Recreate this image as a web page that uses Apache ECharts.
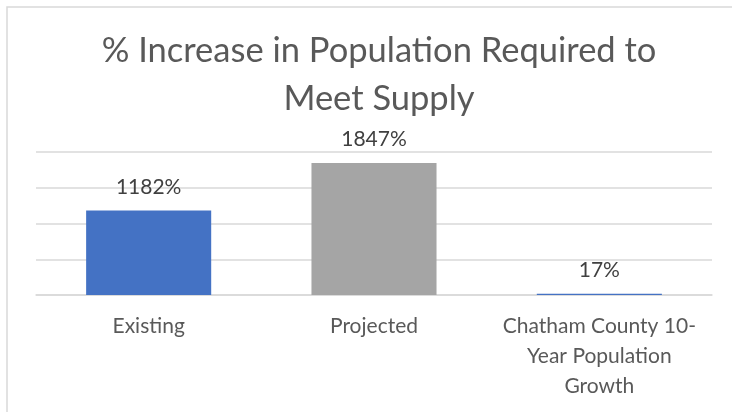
<html>
<head>
    <meta charset="utf-8">
    <title>% Increase in Population Required to Meet Supply</title>
    <style>
        html, body, #main {
            padding: 0;
            margin: 0;
            width: 732px;
            height: 412px;
            background: #fff;
        }
    </style>
    <script src="https://cdn.jsdelivr.net/npm/echarts@6/dist/echarts.min.js"></script>
</head>
<body>
    <div id="main"></div>
    <script>
        // data
        var categories = ['Existing', 'Projected', 'Chatham County 10-\nYear Population\nGrowth'];
        var increasePct = [1182, 1847, 17];
        var barColors = ['#4472C4', '#A5A5A5', '#4472C4'];
        var yTicks = [0, 500, 1000, 1500, 2000];

        var font = 'Lato, "Open Sans", sans-serif';

        var chart = echarts.init(document.getElementById('main'));
        chart.setOption({
            animation: false,
            graphic: [{
                type: 'rect',
                shape: { x: 7, y: 7, width: 740, height: 420 },
                style: { fill: 'none', stroke: '#D9D9D9', lineWidth: 1.5 },
                silent: true
            }],
            title: {
                text: '% Increase in Population Required to\nMeet Supply',
                left: 374,
                top: 22,
                textAlign: 'center',
                textStyle: {
                    fontFamily: font,
                    fontSize: 34.5,
                    fontWeight: 'normal',
                    color: '#595959',
                    lineHeight: 48
                }
            },
            grid: {
                left: 36,
                right: 20,
                top: 152,
                bottom: 117
            },
            xAxis: {
                type: 'category',
                data: categories,
                axisLine: { lineStyle: { color: '#D9D9D9', width: 1.5 } },
                axisTick: { show: false },
                axisLabel: {
                    margin: 16,
                    interval: 0,
                    fontFamily: font,
                    fontSize: 21,
                    lineHeight: 30,
                    color: '#595959'
                }
            },
            yAxis: {
                type: 'value',
                min: yTicks[0],
                max: yTicks[yTicks.length - 1],
                interval: yTicks[1] - yTicks[0],
                axisLabel: { show: false },
                axisLine: { show: false },
                axisTick: { show: false },
                splitLine: { lineStyle: { color: '#D9D9D9', width: 1.5 } }
            },
            series: [{
                type: 'bar',
                barWidth: '55.5%',
                data: increasePct.map(function (v, i) {
                    return { value: v, itemStyle: { color: barColors[i] } };
                }),
                label: {
                    show: true,
                    position: 'top',
                    distance: 13,
                    formatter: '{c}%',
                    fontFamily: font,
                    fontSize: 21,
                    color: '#404040'
                }
            }]
        });
    </script>
</body>
</html>
